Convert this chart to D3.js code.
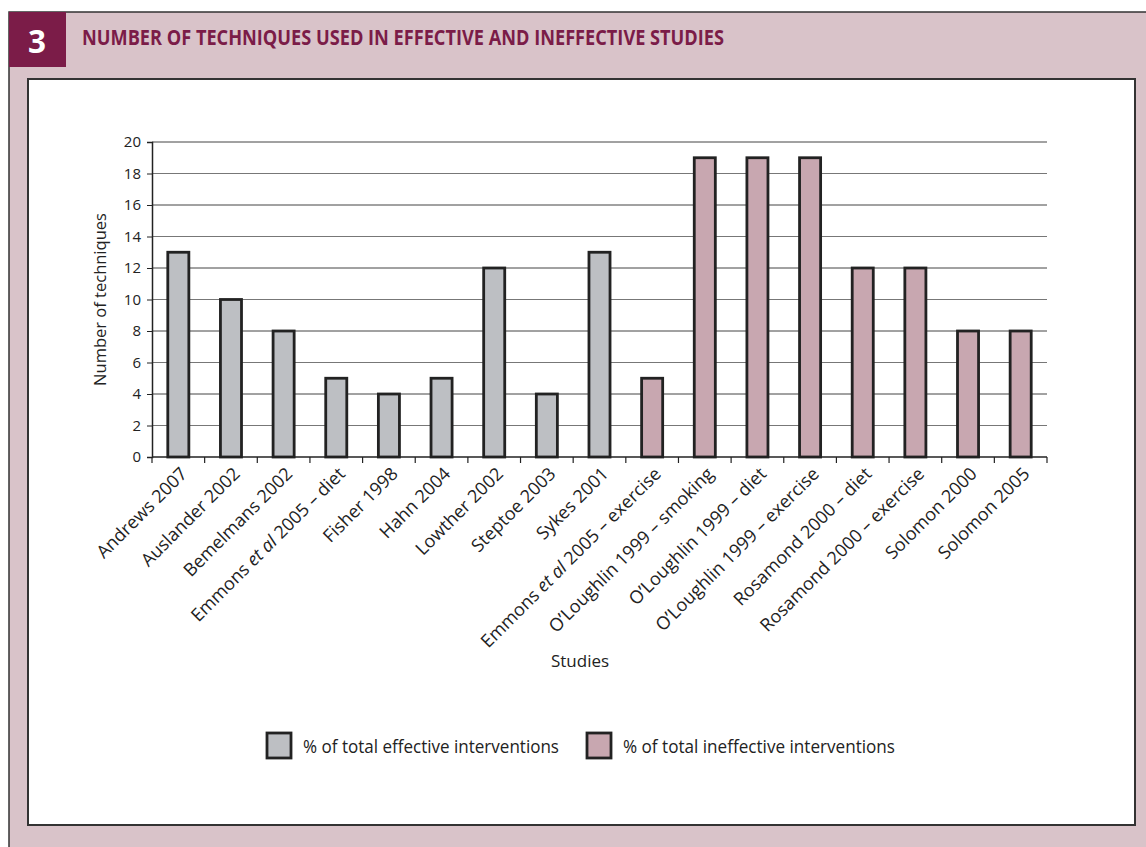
<!DOCTYPE html>
<html>
<head>
<meta charset="utf-8">
<script src="https://cdn.jsdelivr.net/npm/d3@7"></script>
<style>
  html, body { margin: 0; padding: 0; background: #fff; }
  svg { display: block; }
</style>
</head>
<body>
<svg id="chart" width="1146" height="847"></svg>
<script>
// Studies and the number of behaviour-change techniques each used
const studies = [
  "Andrews 2007", "Auslander 2002", "Bemelmans 2002", "Emmons et al 2005 – diet",
  "Fisher 1998", "Hahn 2004", "Lowther 2002", "Steptoe 2003", "Sykes 2001",
  "Emmons et al 2005 – exercise", "O’Loughlin 1999 – smoking", "O’Loughlin 1999 – diet",
  "O’Loughlin 1999 – exercise", "Rosamond 2000 – diet", "Rosamond 2000 – exercise",
  "Solomon 2000", "Solomon 2005"
];
const techniques = [13, 10, 8, 5, 4, 5, 12, 4, 13, 5, 19, 19, 19, 12, 12, 8, 8];
const outcome = [
  "effective", "effective", "effective", "effective", "effective", "effective",
  "effective", "effective", "effective",
  "ineffective", "ineffective", "ineffective", "ineffective", "ineffective",
  "ineffective", "ineffective", "ineffective"
];
const yTicks = [0, 2, 4, 6, 8, 10, 12, 14, 16, 18, 20];
const legendLabels = ["% of total effective interventions", "% of total ineffective interventions"];
const groups = ["effective", "ineffective"];

const barFill = d3.scaleOrdinal().domain(groups).range(["#bdbfc3", "#c8a7b0"]);

const svg = d3.select("#chart");
const font = "'Open Sans', 'Noto Sans', sans-serif";

// Frame: pink panel, numbered tab, title, white inner panel
svg.append("rect").attr("x", 9).attr("y", 12).attr("width", 1146).attr("height", 847)
  .attr("fill", "#d9c3c9").attr("stroke", "#333").attr("stroke-width", 1.5);
svg.append("rect").attr("x", 9).attr("y", 12).attr("width", 57).attr("height", 55)
  .attr("fill", "#7b1c48");
svg.append("text").attr("x", 37).attr("y", 53).attr("text-anchor", "middle")
  .attr("fill", "#fff").attr("font-family", font).attr("font-weight", 700)
  .attr("font-size", 32).attr("textLength", 18).attr("lengthAdjust", "spacingAndGlyphs").text("3");
svg.append("text").attr("x", 82).attr("y", 45)
  .attr("fill", "#7b1c48").attr("font-family", font).attr("font-weight", 700)
  .attr("font-size", 21).attr("textLength", 642).attr("lengthAdjust", "spacingAndGlyphs")
  .text("NUMBER OF TECHNIQUES USED IN EFFECTIVE AND INEFFECTIVE STUDIES");
svg.append("rect").attr("x", 28).attr("y", 79).attr("width", 1107).attr("height", 746)
  .attr("fill", "#fff").attr("stroke", "#333").attr("stroke-width", 2);

// Plot area
const plotLeft = 152, plotRight = 1047, plotTop = 142, plotBottom = 457;
const x = d3.scaleBand().domain(studies).range([plotLeft, plotRight]).paddingInner(0.6).paddingOuter(0.3);
const xb = d3.scaleBand().domain(studies).range([plotLeft, plotRight]);
const y = d3.scaleLinear().domain([0, 20]).range([plotBottom, plotTop]);

// Gridlines
svg.append("g").selectAll("line").data(yTicks.filter(t => t > 0)).join("line")
  .attr("x1", plotLeft).attr("x2", plotRight)
  .attr("y1", d => y(d)).attr("y2", d => y(d))
  .attr("stroke", (d, i) => i % 2 === 0 ? "#777" : "#444").attr("stroke-width", 1);

// Bars
svg.append("g").selectAll("rect").data(studies).join("rect")
  .attr("x", d => x(d))
  .attr("y", (d, i) => y(techniques[i]))
  .attr("width", x.bandwidth())
  .attr("height", (d, i) => y(0) - y(techniques[i]))
  .attr("fill", (d, i) => barFill(outcome[i]))
  .attr("stroke", "#222").attr("stroke-width", 2.8);

// Y axis
const yAxis = svg.append("g").attr("transform", `translate(${plotLeft},0)`)
  .call(d3.axisLeft(y).tickValues(yTicks).tickSize(5).tickPadding(6));
yAxis.select(".domain").attr("stroke", "#222").attr("stroke-width", 1.5);
yAxis.selectAll(".tick line").attr("stroke", "#222");
yAxis.selectAll(".tick text").attr("font-family", font).attr("font-size", 15).attr("fill", "#222");

// X axis: ticks at band boundaries
const xAxisG = svg.append("g");
xAxisG.append("line").attr("x1", plotLeft).attr("x2", plotRight).attr("y1", plotBottom).attr("y2", plotBottom)
  .attr("stroke", "#222").attr("stroke-width", 1.5);
const boundaries = studies.map(s => xb(s)).concat([plotRight]);
xAxisG.selectAll("line.tick").data(boundaries).join("line").attr("class", "tick")
  .attr("x1", d => d).attr("x2", d => d).attr("y1", plotBottom).attr("y2", plotBottom + 6)
  .attr("stroke", "#222").attr("stroke-width", 1.2);

// Rotated category labels (with italic "et al")
const labels = svg.append("g").selectAll("text").data(studies).join("text")
  .attr("transform", d => `translate(${xb(d) + xb.bandwidth() / 2 + 10},${plotBottom + 18}) rotate(-45)`)
  .attr("text-anchor", "end")
  .attr("font-family", font).attr("font-size", 18).attr("fill", "#222");
labels.each(function(d) {
  const t = d3.select(this);
  const m = d.match(/^(.*?)(et al)(.*)$/);
  if (m) {
    t.append("tspan").text(m[1]);
    t.append("tspan").attr("font-style", "italic").text(m[2]);
    t.append("tspan").text(m[3]);
  } else {
    t.text(d);
  }
});

// Axis titles
svg.append("text").attr("transform", `translate(106,${(plotTop + plotBottom) / 2}) rotate(-90)`)
  .attr("text-anchor", "middle").attr("font-family", font).attr("font-size", 16.5).attr("fill", "#222")
  .text("Number of techniques");
svg.append("text").attr("x", 580).attr("y", 667).attr("text-anchor", "middle")
  .attr("font-family", font).attr("font-size", 17).attr("fill", "#222").text("Studies");

// Legend
const legendX = [267, 587];
const legendLen = [256, 272];
const legend = svg.append("g").selectAll("g").data(groups).join("g")
  .attr("transform", (d, i) => `translate(${legendX[i]},733)`);
legend.append("rect").attr("width", 24).attr("height", 25)
  .attr("fill", d => barFill(d)).attr("stroke", "#222").attr("stroke-width", 2.8);
legend.append("text").attr("x", 36).attr("y", 20)
  .attr("font-family", font).attr("font-size", 18.5).attr("fill", "#222")
  .attr("textLength", (d, i) => legendLen[i]).attr("lengthAdjust", "spacingAndGlyphs")
  .text((d, i) => legendLabels[i]);
</script>
</body>
</html>
